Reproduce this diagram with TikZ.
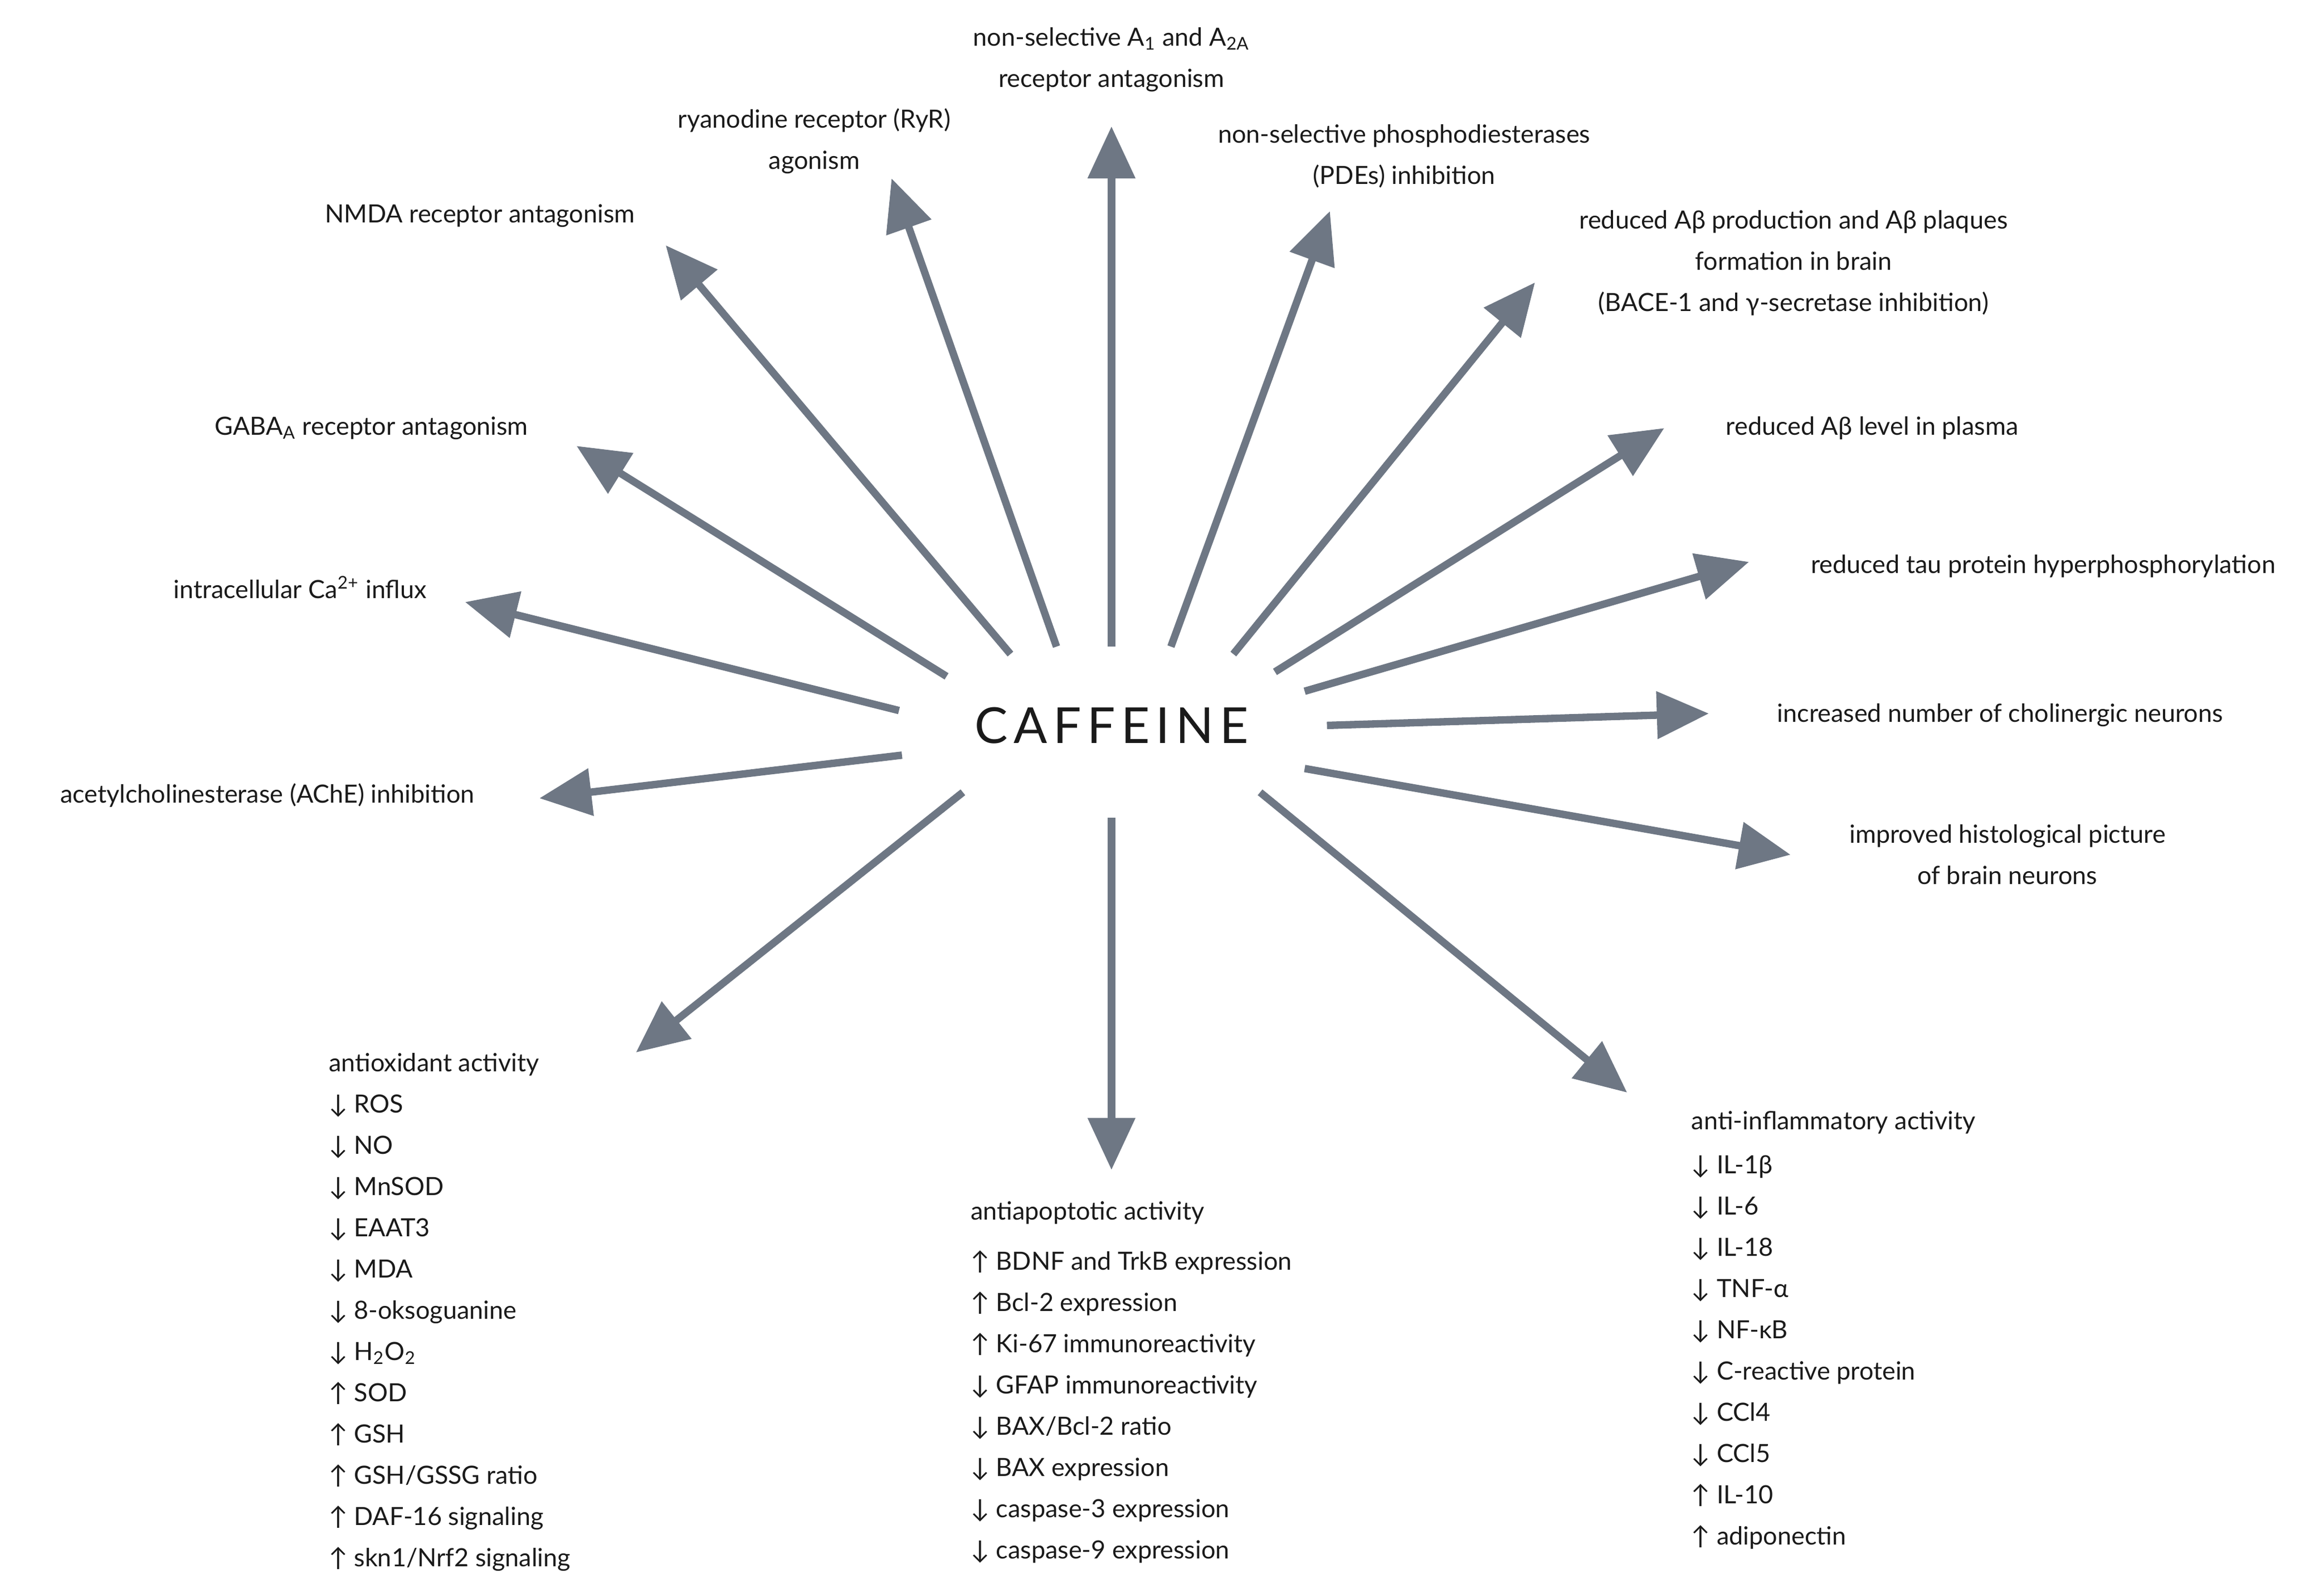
\documentclass[tikz,border=0pt]{standalone}
\usepackage{fontspec}
\setmainfont{Lato}
\usetikzlibrary{arrows.meta}
\definecolor{arr}{HTML}{6E7784}
\definecolor{txt}{HTML}{1A1A1A}
\tikzset{
 x=0.02cm,y=-0.02cm,
 lbl/.style={text=txt,font=\fontsize{9.6pt}{15.8pt}\selectfont,align=center,inner sep=0},
 lst/.style={text=txt,font=\fontsize{9.6pt}{15.8pt}\selectfont,align=left,inner sep=0,anchor=north west},
 ar/.style={draw=arr,line width=0.1cm,-{Triangle[length=0.7cm,width=0.62cm]},shorten >=0pt},
 pt/.style={inner sep=0,minimum size=0}
}
\begin{document}
\begin{tikzpicture}
\useasboundingbox (0,0) rectangle (1564,1068);
\node[text=txt,font=\fontsize{19pt}{22pt}\selectfont\addfontfeature{LetterSpace=12}] (caf) at (748,488) {CAFFEINE};
% start and end coordinates
\foreach \n/\sx/\sy/\ex/\ey in {a/748/435/748/85, b/711/435/600/120, c/680/440/448/165, d/637/455/388/300, e/605/478/313/405, f/607/508/363/537, g/648/533/428/708, h/748/550/748/787, i/848/533/1095/735, j/878/517/1205/575, k/893/488/1150/480, l/878/465/1177/378, m/858/452/1120/288, n/830/440/1033/190, o/788/435/895/142}{
 \coordinate (s\n) at (\sx,\sy);
 \coordinate (e\n) at (\ex,\ey);
 \draw[ar] (s\n) -- (e\n);
}
\node[lbl] (la) at (748,40) {non-selective A\textsubscript{1} and A\textsubscript{2A}\\receptor antagonism};
\node[lbl] (lb) at (548,95) {ryanodine receptor (RyR)\\agonism};
\node[lbl] (lc) at (323,145) {NMDA receptor antagonism};
\node[lbl] (ld) at (250,288) {GABA\textsubscript{A} receptor antagonism};
\node[lbl] (le) at (202,395) {intracellular Ca\textsuperscript{2+} influx};
\node[lbl] (lf) at (180,535) {acetylcholinesterase (AChE) inhibition};
\node[lbl] (lo) at (945,105) {non-selective phosphodiesterases\\(PDEs) inhibition};
\node[lbl] (ln) at (1207,177) {reduced Aβ production and Aβ plaques\\formation in brain\\(BACE-1 and γ-secretase inhibition)};
\node[lbl] (lm) at (1260,288) {reduced Aβ level in plasma};
\node[lbl] (ll) at (1375,381) {reduced tau protein hyperphosphorylation};
\node[lbl] (lk) at (1346,481) {increased number of cholinergic neurons};
\node[lbl] (lj) at (1351,575) {improved histological picture\\of brain neurons};
\node[lst,font=\fontsize{9.6pt}{15.8pt}\selectfont] (lg) at (221,708) {antioxidant activity\\↓ ROS\\↓ NO\\↓ MnSOD\\↓ EAAT3\\↓ MDA\\↓ 8-oksoguanine\\↓ H\textsubscript{2}O\textsubscript{2}\\↑ SOD\\↑ GSH\\↑ GSH/GSSG ratio\\↑ DAF-16 signaling\\↑ skn1/Nrf2 signaling};
\node[lst] (lh) at (653,808) {antiapoptotic activity};
\node[lst] (lh2) at (653,841) {↑ BDNF and TrkB expression\\↑ Bcl-2 expression\\↑ Ki-67 immunoreactivity\\↓ GFAP immunoreactivity\\↓ BAX/Bcl-2 ratio\\↓ BAX expression\\↓ caspase-3 expression\\↓ caspase-9 expression};
\node[lst] (li) at (1138,747) {anti-inflammatory activity};
\node[lst] (li2) at (1138,777) {↓ IL-1β\\↓ IL-6\\↓ IL-18\\↓ TNF-α\\↓ NF-κB\\↓ C-reactive protein\\↓ CCl4\\↓ CCl5\\↑ IL-10\\↑ adiponectin};
\end{tikzpicture}
\end{document}
